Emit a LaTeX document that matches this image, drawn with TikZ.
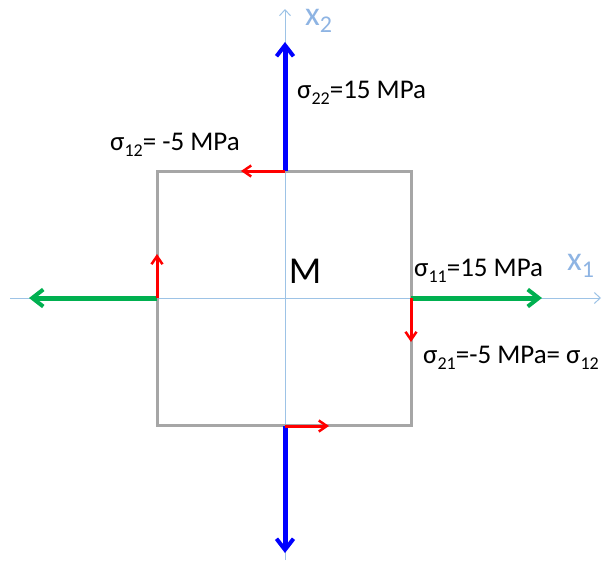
\documentclass[tikz,border=0pt]{standalone}
\usepackage{fontspec}
\setmainfont{Carlito}
\usetikzlibrary{arrows.meta}
\definecolor{axisblue}{HTML}{9DC3E6}
\definecolor{labblue}{HTML}{8EB4E3}
\definecolor{sgreen}{HTML}{00B050}
\definecolor{sgray}{HTML}{A6A6A6}
\newcommand\subs[1]{\raisebox{-0.45ex}{\fontsize{18}{18}\selectfont #1}}
\newcommand\bigsubs[1]{\raisebox{-0.4ex}{\fontsize{24}{24}\selectfont #1}}
\begin{document}
\begin{tikzpicture}[x=1pt,y=-1pt,
  axis/.style={draw=axisblue, line width=1pt, -{Straight Barb[length=6pt,width=11pt]}},
  normalarrow/.style={line width=5pt, -{Straight Barb[length=11pt,width=17pt,line width=4pt]}},
  sheararrow/.style={draw=red, line width=3pt, -{Straight Barb[length=8pt,width=11pt,line width=2.5pt]}},
  lab/.style={inner sep=0pt, font=\fontsize{27}{27}\selectfont},
  axlab/.style={inner sep=0pt, text=labblue, font=\fontsize{34}{34}\selectfont}]
\useasboundingbox (0,0) rectangle (605,560);
% coordinates
\coordinate (xstart) at (10,298);
\coordinate (xend) at (601,298);
\coordinate (ystart) at (285,560);
\coordinate (yend) at (285,9);
% axes
\draw[axis] (xstart) -- (xend);
\draw[axis] (ystart) -- (yend);
% element
\node[draw=sgray, line width=3pt, minimum width=254pt, minimum height=254pt, inner sep=0pt] (sq) at (284,298) {};
\coordinate (T) at (285,171);
\coordinate (B) at (285,426);
\coordinate (L) at (157,298);
\coordinate (R) at (411,298);
\coordinate (Ttip) at (285,42);
\coordinate (Btip) at (285,553);
\coordinate (Ltip) at (29,298);
\coordinate (Rtip) at (542,298);
\coordinate (Tsh) at (241,171);
\coordinate (Bsh) at (329,426);
\coordinate (Lsh) at (157,254);
\coordinate (Rsh) at (411,342);
% normal stresses
\draw[normalarrow, draw=blue] (T) -- (Ttip);
\draw[normalarrow, draw=blue] (B) -- (Btip);
\draw[normalarrow, draw=sgreen] (R) -- (Rtip);
\draw[normalarrow, draw=sgreen] (L) -- (Ltip);
% shear stresses
\draw[sheararrow] (T) -- (Tsh);
\draw[sheararrow] (B) -- (Bsh);
\draw[sheararrow] (L) -- (Lsh);
\draw[sheararrow] (R) -- (Rsh);
% labels
\node[axlab, anchor=west] (x2) at (305,21) {x\bigsubs{2}};
\node[axlab, anchor=west] (x1) at (567,266) {x\bigsubs{1}};
\node[lab, anchor=west] (s22) at (297,93) {σ\subs{22}=15 MPa};
\node[lab, anchor=west] (s12) at (110,145) {σ\subs{12}= -5 MPa};
\node[lab, anchor=west] (s11) at (414,271) {σ\subs{11}=15 MPa};
\node[lab, anchor=west] (s21) at (423,358) {σ\subs{21}=-5 MPa= σ\subs{12}};
\node[inner sep=0pt, font=\fontsize{38}{38}\selectfont] (M) at (305,271) {M};
\end{tikzpicture}
\end{document}
